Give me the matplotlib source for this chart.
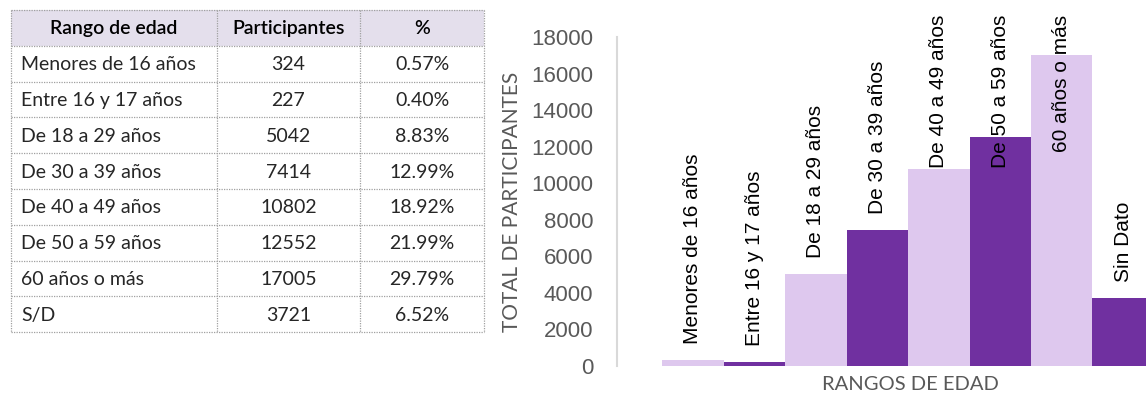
import matplotlib
matplotlib.use("Agg")
import matplotlib.pyplot as plt

# ---- data ----
table_header = ["Rango de edad", "Participantes", "%"]
table_ranges = ["Menores de 16 años", "Entre 16 y 17 años", "De 18 a 29 años",
                "De 30 a 39 años", "De 40 a 49 años", "De 50 a 59 años",
                "60 años o más", "S/D"]
table_counts = [324, 227, 5042, 7414, 10802, 12552, 17005, 3721]
table_pct = ["0.57%", "0.40%", "8.83%", "12.99%", "18.92%", "21.99%", "29.79%", "6.52%"]

bar_labels = ["Menores de 16 años", "Entre 16 y 17 años", "De 18 a 29 años",
              "De 30 a 39 años", "De 40 a 49 años", "De 50 a 59 años",
              "60 años o más", "Sin Dato"]
bar_values = [324, 227, 5042, 7414, 10802, 12552, 17005, 3721]
yticks = list(range(0, 18001, 2000))

# ---- style ----
W, H = 1146, 393
LIGHT = "#DEC8EE"
DARK = "#7030A0"
GRAY_TXT = "#595959"
TABLE_FONT = ["Lato", "DejaVu Sans"]
CHART_FONT = ["Liberation Sans", "DejaVu Sans"]

fig = plt.figure(figsize=(W / 100, H / 100), dpi=100)

# ---- table (pixel coordinates axes) ----
tax = fig.add_axes([0, 0, 1, 1])
tax.set_xlim(0, W)
tax.set_ylim(H, 0)
tax.axis("off")

col_x = [11, 217, 360, 484]
top, row_h = 10, 35.8
nrows = len(table_ranges) + 1
row_y = [top + k * row_h for k in range(nrows + 1)]

tax.add_patch(plt.Rectangle((col_x[0], row_y[0]), col_x[-1] - col_x[0], row_h,
                            facecolor="#E4DFEC", edgecolor="none", zorder=0))
line_kw = dict(color="#A0A0A0", linewidth=0.9, linestyle=(0, (1, 1)), zorder=2)
for y in row_y:
    tax.plot([col_x[0], col_x[-1]], [y, y], **line_kw)
for x in col_x:
    tax.plot([x, x], [row_y[0], row_y[-1]], **line_kw)

fs_tab = 14
for j, h in enumerate(table_header):
    tax.text((col_x[j] + col_x[j + 1]) / 2, row_y[0] + row_h / 2 + 1, h,
             ha="center", va="center", fontsize=fs_tab, fontweight="semibold",
             family=TABLE_FONT, color="black")
for i, (r, c, p) in enumerate(zip(table_ranges, table_counts, table_pct)):
    yc = row_y[i + 1] + row_h / 2 + 1
    tax.text(col_x[0] + 10, yc, r, ha="left", va="center", fontsize=fs_tab,
             family=TABLE_FONT, color="#262626")
    tax.text((col_x[1] + col_x[2]) / 2, yc, str(c), ha="center", va="center",
             fontsize=fs_tab, family=TABLE_FONT, color="#262626")
    tax.text((col_x[2] + col_x[3]) / 2, yc, p, ha="center", va="center",
             fontsize=fs_tab, family=TABLE_FONT, color="#262626")

# ---- bar chart ----
ax_left, ax_right, ax_top, ax_bot = 617, 1146, 37, 366
ax = fig.add_axes([ax_left / W, (H - ax_bot) / H, (ax_right - ax_left) / W,
                   (ax_bot - ax_top) / H])
x = list(range(len(bar_values)))
colors = [LIGHT if i % 2 == 0 else DARK for i in x]
ax.bar(x, bar_values, width=1.0, color=colors, edgecolor="none")

ax.set_ylim(0, 18000)
ax.set_xlim(-1.232, 7.37)
ax.set_yticks(yticks)
ax.set_yticklabels([str(v) for v in yticks], fontsize=16, family=CHART_FONT,
                   color=GRAY_TXT)
ax.tick_params(axis="y", length=0, pad=17)
ax.set_xticks([])
for s in ["top", "right", "bottom"]:
    ax.spines[s].set_visible(False)
ax.spines["left"].set_color("#D9D9D9")
ax.spines["left"].set_linewidth(1.5)

ax.set_ylabel("TOTAL DE PARTICIPANTES", fontsize=15, family=TABLE_FONT,
              color=GRAY_TXT)
ax.yaxis.set_label_coords((512 - ax_left) / (ax_right - ax_left), 0.5)
ax.yaxis.label.set_va("center")
ax.set_xlabel("RANGOS DE EDAD", fontsize=14.5, family=TABLE_FONT, color=GRAY_TXT)
ax.xaxis.set_label_coords((910 - ax_left) / (ax_right - ax_left),
                          (ax_bot - 384) / (ax_bot - ax_top))
ax.xaxis.label.set_va("center")

# data labels (outside end, kept inside chart area)
offset = 16 / (ax_bot - ax_top) * 18000
cap = (ax_bot - 15) / (ax_bot - ax_top) * 18000
texts = []
for i, (lab, v) in enumerate(zip(bar_labels, bar_values)):
    t = ax.text(i, max(v, 0) + offset, lab, rotation=90, ha="center", va="bottom",
                fontsize=15, family=CHART_FONT, color="black", clip_on=False)
    texts.append(t)
fig.canvas.draw()
cap_disp = ax.transData.transform((0, cap))[1]
for t in texts:
    bb = t.get_window_extent()
    if bb.y1 > cap_disp:
        t.set_va("top")
        t.set_y(cap)

fig.savefig("out.png", dpi=100)
